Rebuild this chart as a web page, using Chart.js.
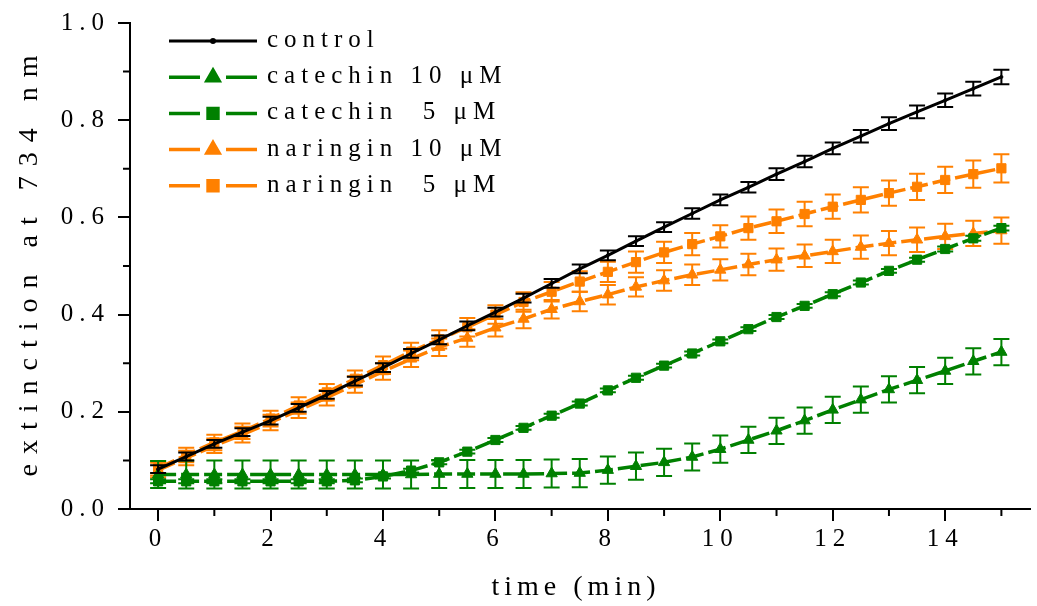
<!DOCTYPE html>
<html>
<head>
<meta charset="utf-8">
<script src="https://cdn.jsdelivr.net/npm/chart.js@4.4.0/dist/chart.umd.min.js"></script>
<style>
  html, body { margin: 0; padding: 0; background: #fff; }
</style>
</head>
<body>
<canvas id="myChart" width="1037" height="606"></canvas>
<script>
///////////// DATA /////////////

const time = [0,0.5,1,1.5,2,2.5,3,3.5,4,4.5,5,5.5,6,6.5,7,7.5,8,8.5,9,9.5,10,10.5,11,11.5,12,12.5,13,13.5,14,14.5,15];
const xTicks = [0, 2, 4, 6, 8, 10, 12, 14];
const yTicks = [0, 0.2, 0.4, 0.6, 0.8, 1.0];

const control    = [0.082,0.108,0.134,0.158,0.182,0.208,0.235,0.263,0.291,0.320,0.348,0.377,0.405,0.434,0.464,0.494,0.522,0.551,0.580,0.608,0.636,0.662,0.689,0.715,0.742,0.767,0.793,0.817,0.841,0.865,0.889];
const controlErr = [0.008,0.008,0.008,0.008,0.008,0.008,0.008,0.009,0.009,0.009,0.009,0.009,0.009,0.009,0.009,0.009,0.010,0.010,0.010,0.011,0.011,0.011,0.012,0.012,0.012,0.013,0.013,0.013,0.014,0.014,0.015];

const catechin10    = [0.071,0.071,0.071,0.071,0.071,0.071,0.071,0.071,0.071,0.071,0.072,0.072,0.072,0.072,0.073,0.074,0.080,0.088,0.096,0.107,0.123,0.142,0.161,0.182,0.204,0.225,0.246,0.265,0.284,0.304,0.323];
const catechin10Err = [0.028,0.029,0.029,0.029,0.029,0.029,0.029,0.029,0.029,0.029,0.029,0.029,0.029,0.029,0.029,0.029,0.028,0.028,0.028,0.028,0.028,0.027,0.027,0.027,0.027,0.027,0.027,0.027,0.027,0.027,0.027];

const catechin5    = [0.057,0.057,0.057,0.057,0.057,0.057,0.057,0.059,0.067,0.079,0.096,0.118,0.142,0.167,0.192,0.217,0.244,0.270,0.295,0.320,0.345,0.370,0.395,0.418,0.442,0.466,0.490,0.513,0.535,0.557,0.578];
const catechin5Err = [0.004,0.004,0.004,0.004,0.004,0.004,0.004,0.004,0.004,0.004,0.004,0.004,0.004,0.004,0.004,0.004,0.004,0.004,0.004,0.004,0.004,0.004,0.004,0.004,0.004,0.004,0.004,0.004,0.005,0.005,0.005];

const naringin10    = [0.080,0.105,0.130,0.153,0.178,0.203,0.229,0.256,0.283,0.309,0.333,0.352,0.373,0.391,0.411,0.427,0.441,0.457,0.470,0.482,0.492,0.503,0.513,0.521,0.530,0.539,0.547,0.554,0.561,0.567,0.573];
const naringin10Err = [0.015,0.015,0.015,0.016,0.016,0.016,0.016,0.017,0.017,0.017,0.018,0.018,0.018,0.019,0.019,0.020,0.020,0.020,0.021,0.021,0.022,0.022,0.023,0.023,0.024,0.024,0.025,0.025,0.026,0.026,0.027];

const naringin5    = [0.084,0.111,0.137,0.160,0.186,0.213,0.240,0.268,0.296,0.324,0.349,0.374,0.400,0.426,0.447,0.468,0.488,0.508,0.528,0.545,0.561,0.578,0.592,0.607,0.622,0.636,0.650,0.663,0.677,0.689,0.701];
const naringin5Err = [0.015,0.015,0.016,0.016,0.016,0.017,0.017,0.017,0.018,0.018,0.019,0.019,0.019,0.020,0.020,0.021,0.021,0.022,0.022,0.023,0.023,0.024,0.024,0.025,0.025,0.026,0.026,0.027,0.027,0.028,0.029];

const GREEN = '#008000';
const ORANGE = '#ff8000';
const FONT = '"Liberation Serif", "Times New Roman", serif';

const pts = vals => vals.map((v, i) => ({ x: time[i], y: v }));   // pair each value with its time

///////////// PLUGINS /////////////

// letter spacing like the original Origin export (reset whenever the canvas is resized)
const spacing = {
  id: 'spacing',
  beforeUpdate(chart) { chart.ctx.letterSpacing = '6px'; },
  beforeDraw(chart) { chart.ctx.letterSpacing = '6px'; }
};

// vertical error bars with caps, drawn with each dataset
const errorBars = {
  id: 'errorBars',
  afterDatasetDraw(chart, args) {
    const ds = chart.data.datasets[args.index];
    if (!ds.errors) return;
    const { ctx, scales: { x, y } } = chart;
    ctx.save();
    ctx.strokeStyle = ds.borderColor;
    ctx.lineWidth = 2;
    ctx.setLineDash([]);
    ds.data.forEach((p, i) => {
      const px = x.getPixelForValue(p.x);
      const top = y.getPixelForValue(p.y + ds.errors[i]);
      const bot = y.getPixelForValue(p.y - ds.errors[i]);
      ctx.beginPath();
      ctx.moveTo(px, top); ctx.lineTo(px, bot);
      ctx.moveTo(px - 8, top); ctx.lineTo(px + 8, top);
      ctx.moveTo(px - 8, bot); ctx.lineTo(px + 8, bot);
      ctx.stroke();
    });
    ctx.restore();
  }
};

// short minor ticks halfway between the labelled ones, plus the axis titles
const axisExtras = {
  id: 'axisExtras',
  afterDraw(chart) {
    const { ctx, scales: { x, y }, chartArea } = chart;
    ctx.save();
    ctx.strokeStyle = '#000';
    ctx.lineWidth = 2;
    ctx.beginPath();
    for (let i = 0; i < xTicks.length; i++) {
      const px = x.getPixelForValue(xTicks[i] + 1);
      ctx.moveTo(px, chartArea.bottom); ctx.lineTo(px, chartArea.bottom + 7);
    }
    for (let i = 0; i < yTicks.length - 1; i++) {
      const py = y.getPixelForValue(yTicks[i] + 0.1);
      ctx.moveTo(chartArea.left, py); ctx.lineTo(chartArea.left - 7, py);
    }
    ctx.stroke();

    ctx.fillStyle = '#000';
    ctx.textAlign = 'center';
    ctx.textBaseline = 'middle';
    ctx.font = '28px ' + FONT;
    ctx.letterSpacing = '5px';
    ctx.fillText(x.options.title.text, 576, 588);

    ctx.letterSpacing = '10px';
    ctx.translate(30, (chartArea.top + chartArea.bottom) / 2);
    ctx.rotate(-Math.PI / 2);
    ctx.fillText(y.options.title.text, 5, 0);
    ctx.restore();
  }
};

// legend in the top left corner: line - marker - line, then the label
const legendBox = {
  id: 'legendBox',
  afterDraw(chart) {
    const ctx = chart.ctx;
    ctx.save();
    ctx.letterSpacing = '6px';
    ctx.font = '25px ' + FONT;
    ctx.textBaseline = 'alphabetic';
    chart.data.datasets.forEach((ds, i) => {
      const y = 41 + i * 36.2;
      ctx.strokeStyle = ds.borderColor;
      ctx.fillStyle = ds.backgroundColor;
      ctx.lineWidth = ds.borderWidth;
      ctx.setLineDash([]);
      ctx.beginPath();
      if (ds.borderDash) {
        ctx.moveTo(169, y); ctx.lineTo(200, y);
        ctx.moveTo(226, y); ctx.lineTo(257, y);
      } else {
        ctx.moveTo(169, y); ctx.lineTo(257, y);
      }
      ctx.stroke();
      Chart.helpers.drawPoint(ctx, {
        pointStyle: ds.pointStyle,
        radius: ds.pointStyle === 'circle' ? 1.5 : 7,
        rotation: 0,
        borderWidth: 1
      }, 213, y);
      ctx.fillStyle = '#000';
      ctx.fillText(ds.label, 267, y + 6);
    });
    ctx.restore();
  }
};

///////////// CHART /////////////

const ctx = document.getElementById('myChart').getContext('2d');

new Chart(ctx, {
  type: 'line',
  data: {
    datasets: [
      {
        label: 'control',
        data: pts(control), errors: controlErr,
        borderColor: '#000', backgroundColor: '#000', borderWidth: 3,
        pointStyle: 'circle', pointRadius: 1.5, pointBorderWidth: 1
      },
      {
        label: 'catechin 10 μM',
        data: pts(catechin10), errors: catechin10Err,
        borderColor: GREEN, backgroundColor: GREEN, borderWidth: 3.5, borderDash: [18, 5],
        pointStyle: 'triangle', pointRadius: 6.5, pointBorderWidth: 1
      },
      {
        label: 'catechin  5 μM',
        data: pts(catechin5), errors: catechin5Err,
        borderColor: GREEN, backgroundColor: GREEN, borderWidth: 3.5, borderDash: [18, 5],
        pointStyle: 'rect', pointRadius: 6.5, pointBorderWidth: 1
      },
      {
        label: 'naringin 10 μM',
        data: pts(naringin10), errors: naringin10Err,
        borderColor: ORANGE, backgroundColor: ORANGE, borderWidth: 3.5, borderDash: [18, 5],
        pointStyle: 'triangle', pointRadius: 6.5, pointBorderWidth: 1
      },
      {
        label: 'naringin  5 μM',
        data: pts(naringin5), errors: naringin5Err,
        borderColor: ORANGE, backgroundColor: ORANGE, borderWidth: 3.5, borderDash: [18, 5],
        pointStyle: 'rect', pointRadius: 6.5, pointBorderWidth: 1
      }
    ]
  },
  options: {
    responsive: false,
    animation: false,
    events: [],
    layout: { padding: { top: 23, right: 0, bottom: 0, left: 0 } },
    elements: { line: { tension: 0 } },
    font: { family: FONT, size: 25 },
    plugins: { legend: { display: false }, tooltip: { enabled: false } },
    scales: {
      x: {
        type: 'linear',
        min: -0.5, max: 15.5,
        border: { color: '#000', width: 2 },
        grid: { drawOnChartArea: false, color: '#000', lineWidth: 2, tickLength: 12 },
        ticks: { padding: 3, color: '#000', font: { family: FONT, size: 25 } },
        afterBuildTicks: s => { s.ticks = xTicks.map(v => ({ value: v })); },
        title: { display: false, text: 'time (min)' },
        afterFit: s => { s.height = 97; }
      },
      y: {
        min: 0, max: 1.0,
        border: { color: '#000', width: 2 },
        grid: { drawOnChartArea: false, color: '#000', lineWidth: 2, tickLength: 12 },
        ticks: {
          padding: 8, color: '#000',
          font: { family: FONT, size: 25 },
          callback: v => v.toFixed(1)
        },
        afterBuildTicks: s => { s.ticks = yTicks.map(v => ({ value: v })); },
        title: { display: false, text: 'extinction at 734 nm' },
        afterFit: s => { s.width = 130; }
      }
    }
  },
  plugins: [spacing, errorBars, axisExtras, legendBox]
});
</script>
</body>
</html>
